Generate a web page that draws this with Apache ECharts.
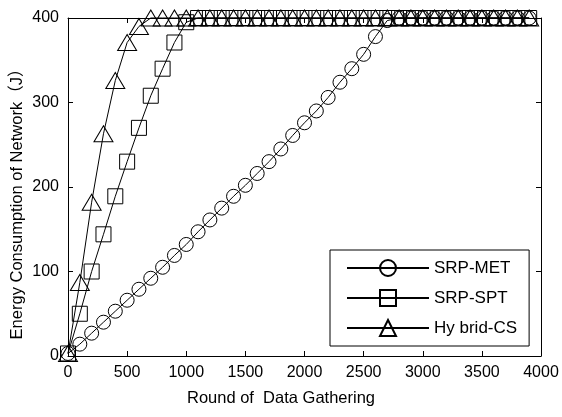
<!DOCTYPE html>
<html>
<head>
<meta charset="utf-8">
<script src="https://cdn.jsdelivr.net/npm/echarts@6/dist/echarts.min.js"></script>
<style>
html,body{margin:0;padding:0;background:#fff;}
#chart{width:562px;height:417px;}
</style>
</head>
<body>
<div id="chart"></div>
<script>
var rounds = [0,100,200,300,400,500,600,700,800,900,1000,1100,1200,1300,1400,1500,1600,1700,1800,1900,2000,2100,2200,2300,2400,2500,2600,2700,2800,2900,3000,3100,3200,3300,3400,3500,3600,3700,3800,3900];
var srpMet = [3,14,27,40,53,66,79,92,105,119,132,147,161,175,189,202,216,230,245,261,276,290,306,324,340,357,378,397,400,400,400,400,400,400,400,400,400,400,400,400];
var srpSpt = [3,50,100,144,189,230,270,308,340,371,395,400,400,400,400,400,400,400,400,400,400,400,400,400,400,400,400,400,400,400,400,400,400,400,400,400,400,400,400,400];
var hybridCs = [3,87,182,263,326,371,390,400,400,400,400,400,400,400,400,400,400,400,400,400,400,400,400,400,400,400,400,400,400,400,400,400,400,400,400,400,400,400,400,400];
var seriesNames = ['SRP-MET','SRP-SPT','Hy brid-CS'];
var xTicks = {min:0, max:4000, interval:500};
var yTicks = {min:0, max:400, interval:100};
var xTitle = 'Round of  Data Gathering';
var yTitle = 'Energy Consumption of Network（J）';

function pairs(vals){ return rounds.map(function(r,i){ return [r, vals[i]]; }); }
function plain(v){ return String(v); }

var FONT = 'Liberation Sans, Arial, Noto Sans CJK SC, sans-serif';
var chart = echarts.init(document.getElementById('chart'), null, {renderer:'canvas'});

function mkSeries(name, vals, symbol, size){
  return {
    name: name, type:'line', data: pairs(vals),
    symbol: symbol, symbolSize: size, showAllSymbol: true, clip: false,
    lineStyle: {color:'#000', width:1},
    itemStyle: {color:'rgba(255,255,255,0)', borderColor:'#000', borderWidth:1},
    emphasis: {disabled:true}, animation:false
  };
}

var axisCommon = {
  axisLine:{show:true, onZero:false, lineStyle:{color:'#000', width:1}},
  axisTick:{show:true, inside:true, length:5, lineStyle:{color:'#000'}},
  splitLine:{show:false}
};

var option = {
  animation:false,
  backgroundColor:'#fff',
  textStyle:{fontFamily:FONT},
  grid:{left:68, right:21, top:18, bottom:61, containLabel:false},
  legend:{
    orient:'vertical', left:330, top:250,
    padding:[8,12,8,16],
    itemWidth:82, itemHeight:20, itemGap:10,
    borderColor:'#000', borderWidth:1, backgroundColor:'#fff',
    textStyle:{fontFamily:FONT, fontSize:17, color:'#000', lineHeight:20},
    data: seriesNames
  },
  graphic:[
    {type:'text', x:281, y:398, silent:true,
     style:{text:xTitle, fontFamily:FONT, fontSize:16.5, fill:'#000', align:'center', verticalAlign:'middle', textAlign:'center', textVerticalAlign:'middle'}},
    {type:'text', x:17, y:200, rotation:Math.PI/2, silent:true,
     style:{text:yTitle, fontFamily:FONT, fontSize:16.5, fill:'#000', align:'center', verticalAlign:'middle', textAlign:'center', textVerticalAlign:'middle'}}
  ],
  xAxis:[
    Object.assign({type:'value', position:'bottom', min:xTicks.min, max:xTicks.max, interval:xTicks.interval,
      axisLabel:{fontFamily:FONT, fontSize:16, color:'#000', margin:9, formatter:plain}}, axisCommon),
    Object.assign({type:'value', position:'top', min:xTicks.min, max:xTicks.max, interval:xTicks.interval,
      axisLabel:{show:false}}, axisCommon)
  ],
  yAxis:[
    Object.assign({type:'value', position:'left', min:yTicks.min, max:yTicks.max, interval:yTicks.interval,
      axisLabel:{fontFamily:FONT, fontSize:16, color:'#000', margin:9, formatter:plain}}, axisCommon),
    Object.assign({type:'value', position:'right', min:yTicks.min, max:yTicks.max, interval:yTicks.interval,
      axisLabel:{show:false}}, axisCommon)
  ],
  series:[
    mkSeries(seriesNames[0], srpMet, 'circle', 14),
    mkSeries(seriesNames[1], srpSpt, 'rect', 15),
    mkSeries(seriesNames[2], hybridCs, 'triangle', [19,16])
  ]
};
chart.setOption(option);
</script>
</body>
</html>
